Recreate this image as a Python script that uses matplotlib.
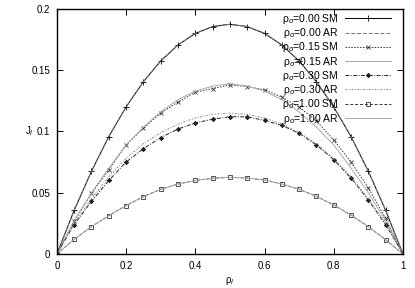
import numpy as np
import matplotlib
matplotlib.use("Agg")
import matplotlib.pyplot as plt

# density grid (step 0.05)
rho = [0.00, 0.05, 0.10, 0.15, 0.20, 0.25, 0.30, 0.35, 0.40, 0.45, 0.50,
       0.55, 0.60, 0.65, 0.70, 0.75, 0.80, 0.85, 0.90, 0.95, 1.00]

# currents
j00_sm = [0, 0.0356, 0.0675, 0.0958, 0.120, 0.1406, 0.1575, 0.1706, 0.180, 0.1856, 0.1875,
          0.1856, 0.180, 0.1706, 0.1575, 0.1406, 0.120, 0.0958, 0.0675, 0.0356, 0]
j00_ar = [0, 0.0356, 0.0675, 0.0958, 0.120, 0.1406, 0.1575, 0.1706, 0.180, 0.1856, 0.1875,
          0.1856, 0.180, 0.1706, 0.1575, 0.1406, 0.120, 0.0958, 0.0675, 0.0356, 0]
j15_sm = [0, 0.027, 0.0495, 0.0686, 0.089, 0.1026, 0.115, 0.124, 0.132, 0.135, 0.138,
          0.1366, 0.134, 0.128, 0.120, 0.1086, 0.093, 0.075, 0.054, 0.029, 0]
j15_ar = [0, 0.027, 0.050, 0.070, 0.089, 0.1035, 0.116, 0.126, 0.133, 0.137, 0.139,
          0.137, 0.133, 0.126, 0.116, 0.1035, 0.089, 0.070, 0.050, 0.027, 0]
j30_sm = [0, 0.024, 0.043, 0.060, 0.075, 0.086, 0.095, 0.102, 0.107, 0.110, 0.112,
          0.112, 0.109, 0.105, 0.0985, 0.089, 0.077, 0.062, 0.044, 0.024, 0]
j30_ar = [0, 0.025, 0.045, 0.063, 0.078, 0.090, 0.099, 0.106, 0.111, 0.114, 0.115,
          0.114, 0.111, 0.106, 0.099, 0.090, 0.078, 0.063, 0.045, 0.025, 0]
j100_sm = [0, 0.012, 0.0223, 0.0313, 0.0395, 0.0468, 0.0528, 0.0571, 0.0600, 0.0618, 0.0626,
           0.0620, 0.0604, 0.0571, 0.0528, 0.0470, 0.0400, 0.0318, 0.0223, 0.0116, 0]
j100_ar = [0, 0.012, 0.0223, 0.0313, 0.0395, 0.0468, 0.0528, 0.0571, 0.0600, 0.0618, 0.0626,
           0.0620, 0.0604, 0.0571, 0.0528, 0.0470, 0.0400, 0.0318, 0.0223, 0.0116, 0]

xticks = [0, 0.2, 0.4, 0.6, 0.8, 1]
xticklabels = ["0", "0.2", "0.4", "0.6", "0.8", "1"]
yticks = [0, 0.05, 0.1, 0.15, 0.2]
yticklabels = ["0", "0.05", "0.1", "0.15", "0.2"]

plt.rcParams['font.family'] = ['Liberation Sans', 'DejaVu Sans']
plt.rcParams['font.size'] = 7

fig = plt.figure(figsize=(4.15, 2.88), dpi=100)
ax = fig.add_axes([0.137, 0.118, 0.834, 0.851])

lw = 0.7
ax.plot(rho, j00_sm, color='black', lw=lw, ls='-', marker='+', ms=4, mew=0.6, label='ρ$_o$=0.00 SM')
ax.plot(rho, j00_ar, color='#777777', lw=lw, ls=(0, (4, 2)), label='ρ$_o$=0.00 AR')
ax.plot(rho, j15_sm, color='#333333', lw=lw, ls=(0, (1.5, 1.5)), marker='x', ms=3, mew=0.6, label='ρ$_o$=0.15 SM')
ax.plot(rho, j15_ar, color='#aaaaaa', lw=lw, ls='-', label='ρ$_o$=0.15 AR')
ax.plot(rho, j30_sm, color='#222222', lw=lw, ls=(0, (4, 1.5, 1, 1.5)), marker=(8, 2, 0), ms=3.2, mew=0.6, label='ρ$_o$=0.30 SM')
ax.plot(rho, j30_ar, color='#888888', lw=lw, ls=(0, (2, 1.5, 1, 1.5)), label='ρ$_o$=0.30 AR')
ax.plot(rho, j100_sm, color='#333333', lw=lw, ls=(0, (3, 2)), marker='s', ms=3, mfc='none', mew=0.6, label='ρ$_o$=1.00 SM')
ax.plot(rho, j100_ar, color='#aaaaaa', lw=lw, ls='-', label='ρ$_o$=1.00 AR')

ax.set_xlim(0, 1)
ax.set_ylim(0, 0.2)
ax.set_xticks(xticks)
ax.set_xticklabels(xticklabels)
ax.set_yticks(yticks)
ax.set_yticklabels(yticklabels)
ax.tick_params(direction='in', top=True, right=True, length=4, width=0.7, pad=5)
for s in ax.spines.values():
    s.set_linewidth(1.0)

ax.set_xlabel('ρ$_l$')
ax.xaxis.set_label_coords(0.5, -0.085)
ax.set_ylabel('J$_l$', rotation=0, va='center', ha='center')
ax.yaxis.set_label_coords(-0.08, 0.5)

leg = ax.legend(loc='upper right', bbox_to_anchor=(0.975, 1.0), frameon=False, markerfirst=False,
                handlelength=4.4, labelspacing=0.02, handletextpad=0.6, borderaxespad=0.1,
                borderpad=0.2, fontsize=7.5)

fig.savefig("out.png", dpi=100)
